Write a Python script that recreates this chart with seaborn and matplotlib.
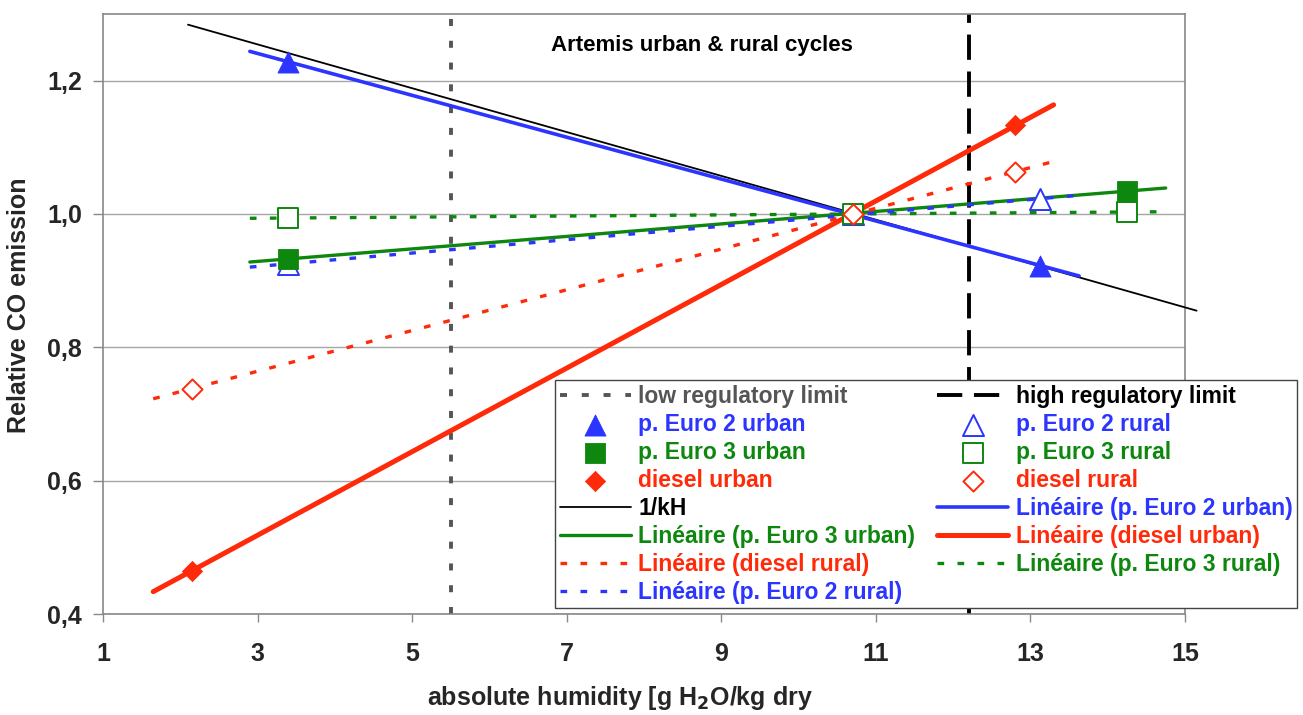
import numpy as np
import pandas as pd
import seaborn as sns
import matplotlib.pyplot as plt

# relative CO emission vs absolute humidity (g H2O / kg dry air)
euro2_x = [3.4, 10.7, 13.13]
euro2_urban = [1.228, 1.0, 0.922]
euro2_rural = [0.925, 1.0, 1.022]
euro3_x = [3.4, 10.7, 14.25]
euro3_urban = [0.933, 1.0, 1.035]
euro3_rural = [0.994, 1.0, 1.003]
diesel_x = [2.15, 10.7, 12.8]
diesel_urban = [0.465, 1.0, 1.133]
diesel_rural = [0.738, 1.0, 1.063]

# 1/kH correction line (end points)
kh_x = [2.1, 15.15]
kh_y = [1.284, 0.855]

low_limit = 5.5
high_limit = 12.2

x_ticks = [1, 3, 5, 7, 9, 11, 13, 15]
y_ticks = [0.4, 0.6, 0.8, 1.0, 1.2]
y_tick_labels = ["0,4", "0,6", "0,8", "1,0", "1,2"]

BLUE = "#2b35ff"
GREEN = "#0e870e"
RED = "#ff2a0a"
GREY = "#555555"


def trend(x, y, ext=0.5):
    # excel style linear trendline, extended a bit both sides
    k, b = np.polyfit(x, y, 1)
    xs = np.array([min(x) - ext, max(x) + ext])
    return pd.DataFrame({"x": xs, "y": k * xs + b})


sns.set_theme(style="white")
plt.rcParams["font.family"] = ["Liberation Sans", "DejaVu Sans"]
plt.rcParams["font.weight"] = "bold"

fig, ax = plt.subplots(figsize=(13.03, 7.15), dpi=100)
fig.subplots_adjust(left=103 / 1303, right=1185 / 1303, bottom=1 - 614 / 715, top=1 - 14 / 715)

# regulatory limits
ax.axvline(low_limit, color=GREY, lw=2.8, ls=(0, (1.8, 3.8)), label="low regulatory limit", zorder=2)
ax.axvline(high_limit, color="black", lw=2.8, ls=(0, (6.5, 3)), label="high regulatory limit", zorder=2)

# 1/kH
sns.lineplot(data=pd.DataFrame({"x": kh_x, "y": kh_y}), x="x", y="y", color="black",
             lw=1.3, label="1/kH", ax=ax, clip_on=False, zorder=3)

# trendlines
dot = (0, (2, 4))
sns.lineplot(data=trend(euro2_x, euro2_urban), x="x", y="y", color=BLUE, lw=2.6,
             label="Linéaire (p. Euro 2 urban)", ax=ax, zorder=3)
sns.lineplot(data=trend(euro3_x, euro3_urban), x="x", y="y", color=GREEN, lw=2.4,
             label="Linéaire (p. Euro 3 urban)", ax=ax, zorder=3)
sns.lineplot(data=trend(diesel_x, diesel_urban), x="x", y="y", color=RED, lw=3.6,
             label="Linéaire (diesel urban)", ax=ax, zorder=3)
sns.lineplot(data=trend(diesel_x, diesel_rural), x="x", y="y", color=RED, lw=2.4, ls=dot,
             label="Linéaire (diesel rural)", ax=ax, zorder=3)
sns.lineplot(data=trend(euro3_x, euro3_rural), x="x", y="y", color=GREEN, lw=2.4, ls=dot,
             label="Linéaire (p. Euro 3 rural)", ax=ax, zorder=3)
sns.lineplot(data=trend(euro2_x, euro2_rural), x="x", y="y", color=BLUE, lw=2.4, ls=dot,
             label="Linéaire (p. Euro 2 rural)", ax=ax, zorder=3)

# measured points
pts = [
    (euro2_x, euro2_urban, "^", BLUE, True, 230, "p. Euro 2 urban"),
    (euro2_x, euro2_rural, "^", BLUE, False, 230, "p. Euro 2 rural"),
    (euro3_x, euro3_urban, "s", GREEN, True, 210, "p. Euro 3 urban"),
    (euro3_x, euro3_rural, "s", GREEN, False, 210, "p. Euro 3 rural"),
    (diesel_x, diesel_urban, "D", RED, True, 105, "diesel urban"),
    (diesel_x, diesel_rural, "D", RED, False, 105, "diesel rural"),
]
for xs, ys, m, c, filled, s, lab in pts:
    sns.scatterplot(x=xs, y=ys, marker=m, s=s, color=c,
                    facecolor=c if filled else "white", edgecolor=c,
                    linewidth=0.6 if filled else 1.4, label=lab, ax=ax, zorder=4)

ax.set_xlim(1, 15)
ax.set_ylim(0.4, 1.3)
ax.set_xticks(x_ticks)
ax.set_xticklabels([str(t) for t in x_ticks])
ax.set_yticks(y_ticks)
ax.set_yticklabels(y_tick_labels)
ax.tick_params(axis="x", direction="out", length=6, width=1, color="#888888", pad=14,
               labelsize=18, bottom=True)
ax.tick_params(axis="y", direction="out", length=7, width=1, color="#888888", pad=8,
               labelsize=18, left=True)
ax.yaxis.grid(True, color="#a6a6a6", lw=1)
ax.xaxis.grid(False)
ax.set_axisbelow(True)
for sp in ax.spines.values():
    sp.set_color("#888888")
    sp.set_linewidth(1.2)

ax.set_xlabel("absolute humidity [g H$_\\mathbf{2}$O/kg dry", fontsize=18, fontweight="bold")
ax.set_ylabel("Relative CO emission", fontsize=18, fontweight="bold")
ax.xaxis.set_label_coords((620 - 103) / 1082, (614 - 684) / 600)
ax.yaxis.set_label_coords((31 - 103) / 1082, (614 - 305) / 600)

ax.text((702 - 103) / 1082, (614 - 46) / 600, "Artemis urban & rural cycles", transform=ax.transAxes,
        ha="center", va="center", fontsize=16, fontweight="bold", color="black")

# legend, row-wise order like the excel chart
h, l = ax.get_legend_handles_labels()
hd = dict(zip(l, h))
order = ["low regulatory limit", "p. Euro 2 urban", "p. Euro 3 urban", "diesel urban", "1/kH",
         "Linéaire (p. Euro 3 urban)", "Linéaire (diesel rural)", "Linéaire (p. Euro 2 rural)",
         "high regulatory limit", "p. Euro 2 rural", "p. Euro 3 rural", "diesel rural",
         "Linéaire (p. Euro 2 urban)", "Linéaire (diesel urban)", "Linéaire (p. Euro 3 rural)"]
text_colors = {"low regulatory limit": GREY, "high regulatory limit": "black", "1/kH": "black"}
for name in order:
    if name not in text_colors:
        if "Euro 2" in name:
            text_colors[name] = BLUE
        elif "Euro 3" in name:
            text_colors[name] = GREEN
        else:
            text_colors[name] = RED

leg = ax.legend([hd[n] for n in order], order, ncol=2, loc="upper left",
                bbox_to_anchor=(555 / 1303, 1 - 380 / 715), bbox_transform=fig.transFigure,
                borderaxespad=0, frameon=True, fancybox=False, framealpha=1, edgecolor="#444444",
                prop=dict(weight="bold", size=16.5), handlelength=3.1, handletextpad=0.34,
                columnspacing=0.95, labelspacing=0.22, borderpad=0.2, scatterpoints=1)
leg.get_frame().set_linewidth(1.0)
leg.set_zorder(10)
for t in leg.get_texts():
    t.set_color(text_colors[t.get_text()])

plt.savefig("out.png", dpi=100)
